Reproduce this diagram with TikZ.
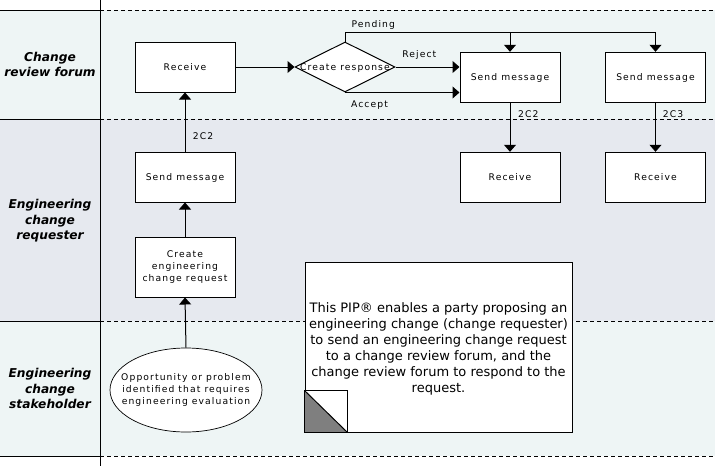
\documentclass[tikz,border=0pt]{standalone}
\usepackage{fontspec}
\setmainfont{DejaVu Sans}
\newfontfamily\spacedfont[LetterSpace=12]{DejaVu Sans}
\usetikzlibrary{arrows.meta,shapes.geometric}
\definecolor{laneA}{HTML}{EEF5F5}
\definecolor{laneB}{HTML}{E6E9EF}
\definecolor{notegray}{HTML}{7F7F7F}
\begin{document}
\begin{tikzpicture}[x=1pt,y=-1pt,
  font=\spacedfont\fontsize{9.2}{11.7}\selectfont,
  line width=1pt,
  arr/.style={-{Triangle[width=12pt,length=7pt]}},
  box/.style={draw, fill=white, minimum width=100pt, minimum height=50pt, inner sep=1pt, align=center},
  onebox/.style={box, text height=6.8pt, text depth=0pt},
  lanelbl/.style={font=\fontsize{12.2}{15.5}\selectfont\bfseries\itshape, align=center},
  lanesep/.style={line width=0.8pt, dash pattern=on 4pt off 3pt},
  lbl/.style={inner sep=0pt, anchor=base}]
\useasboundingbox (0,0) rectangle (715,466);
% lanes
\fill[laneA] (0,10) rectangle (715,119);
\fill[laneB] (0,119) rectangle (715,321);
\fill[laneA] (0,321) rectangle (715,456);
\foreach \yy in {10,119,321,456} {
  \draw[line width=0.8pt] (0,\yy) -- (100,\yy);
  \draw[lanesep] (100,\yy) -- (715,\yy);
}
\draw[line width=0.8pt] (100,0) -- (100,466);
% lane labels
\node[lanelbl] (L1) at (50,64.5) {Change\\review forum};
\node[lanelbl] (L2) at (50,221) {Engineering\\change\\requester};
\node[lanelbl] (L3) at (50,388.5) {Engineering\\change\\stakeholder};
% nodes
\node[onebox] (rcv1) at (185,67) {Receive};
\node[draw, diamond, fill=white, minimum width=100pt, minimum height=50pt, inner sep=0pt, aspect=2] (dia) at (345,67) {};
\node[inner sep=0pt, text height=6.8pt, text depth=0pt] (diatxt) at (dia.center) {Create response};
\node[onebox] (sm1) at (510,77.3) {Send message};
\node[onebox] (sm2) at (655.5,77.3) {Send message};
\node[onebox] (rcv2) at (510,177.3) {Receive};
\node[onebox] (rcv3) at (655.5,177.3) {Receive};
\node[onebox] (smL) at (185,177) {Send message};
\node[box, minimum height=60pt] (cr) at (185,267) {Create\\engineering\\change request};
\node[draw, ellipse, fill=white, line width=0.7pt, minimum width=152pt, minimum height=84pt, inner sep=0pt] (ell) at (186,390) {};
\node[align=center, inner sep=0pt] (elltxt) at (ell.center) {Opportunity or problem\\identified that requires\\engineering evaluation};
% note
\node[draw, fill=white, minimum width=267pt, minimum height=170pt, inner sep=0pt] (note) at (438.5,347) {};
\node[align=center, font=\fontsize{13}{16}\selectfont] (notetxt) at (438.5,348.5) {This PIP® enables a party proposing an\\engineering change (change requester)\\to send an engineering change request\\to a change review forum, and the\\change review forum to respond to the\\request.};
\fill[white] (note.south west) rectangle ++(43,-42);
\fill[notegray] (note.south west) -- ++(0,-42) -- ++(43,42) -- cycle;
\draw (note.south west) rectangle ++(43,-42);
\draw (note.south west) ++(0,-42) -- ++(43,42);
% connectors
\coordinate (pend) at (345,32);
\draw[arr] (rcv1.east) -- (dia.west);
\draw (dia.north) -- (pend);
\draw[arr] (pend) -| (sm1.north);
\draw[arr] (pend) -| (sm2.north);
\draw[arr] (dia.east) -- (dia.east -| sm1.west);
\draw[arr] (dia.south) -- (dia.south -| sm1.west);
\draw[arr] (sm1.south) -- (rcv2.north);
\draw[arr] (sm2.south) -- (rcv3.north);
\draw[arr] (smL.north) -- (rcv1.south);
\draw[arr] (cr.north) -- (smL.south);
\draw[arr] (ell.north) -- (cr.south);
% labels
\node[lbl] (tPend) at (373.3,27.7) {Pending};
\node[lbl] (tRej) at (419.3,57) {Reject};
\node[lbl] (tAcc) at (369.5,107) {Accept};
\node[lbl] (t2c2a) at (528.3,117.5) {2C2};
\node[lbl] (t2c3) at (673,117.5) {2C3};
\node[lbl] (t2c2b) at (203,139) {2C2};
\end{tikzpicture}
\end{document}
